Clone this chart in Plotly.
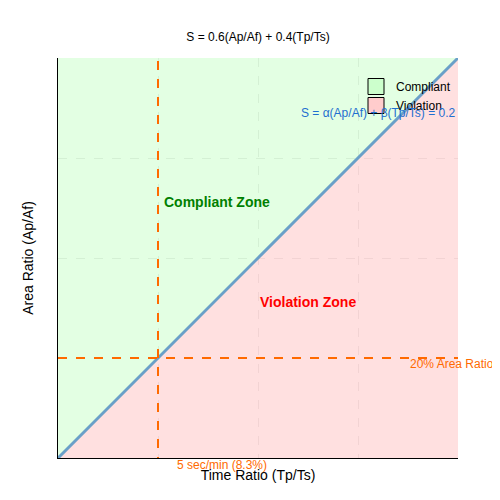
import plotly.graph_objects as go

diag_x = [0, 1]
diag_y = [0, 1]
thr_x = 0.25
thr_y = 0.25

fig = go.Figure()
fig.add_trace(go.Scatter(x=[0, 1, 0, 0], y=[0, 1, 1, 0], fill="toself", fillcolor="rgba(204,255,204,0.55)",
                         line=dict(width=0), mode="lines", showlegend=False, hoverinfo="skip"))
fig.add_trace(go.Scatter(x=[0, 1, 1, 0], y=[0, 1, 0, 0], fill="toself", fillcolor="rgba(255,204,204,0.6)",
                         line=dict(width=0), mode="lines", showlegend=False, hoverinfo="skip"))
fig.add_trace(go.Scatter(x=[None], y=[None], mode="markers", name="Compliant",
                         marker=dict(symbol="square", size=20, color="#ccffcc", line=dict(color="black", width=1))))
fig.add_trace(go.Scatter(x=[None], y=[None], mode="markers", name="Violation",
                         marker=dict(symbol="square", size=20, color="#ffcccc", line=dict(color="black", width=1))))
fig.add_trace(go.Scatter(x=diag_x, y=diag_y, mode="lines", line=dict(color="#6aa0c8", width=3), showlegend=False))
fig.add_trace(go.Scatter(x=[thr_x, thr_x], y=[-0.02, 1], mode="lines", cliponaxis=False,
                         line=dict(color="#ff6a00", width=2, dash="dash"), showlegend=False))
fig.add_trace(go.Scatter(x=[0, 1], y=[thr_y, thr_y], mode="lines",
                         line=dict(color="#ff6a00", width=2, dash="dash"), showlegend=False))

anns = [
    dict(x=1.0, y=0.885, text="S = α(Ap/Af) + β(Tp/Ts) = 0.2", font=dict(color="#1f6fd0", size=12), xanchor="right"),
    dict(x=0.26, y=0.64, text="<b>Compliant Zone</b>", font=dict(color="green", size=14)),
    dict(x=0.75, y=0.39, text="<b>Violation Zone</b>", font=dict(color="red", size=14)),
    dict(x=0.875, y=0.213, text="20% Area Ratio", font=dict(color="#ff6a00", size=12), xanchor="left"),
    dict(x=0.41, y=-0.04, text="5 sec/min (8.3%)", font=dict(color="#ff6a00", size=12)),
]
for a in anns:
    fig.add_annotation(showarrow=False, xref="paper", yref="paper", **a)

fig.update_layout(
    width=500, height=500, margin=dict(l=50, r=50, t=50, b=50),
    plot_bgcolor="white", paper_bgcolor="white",
    font=dict(family="Liberation Sans, Arial", color="black"),
    title=dict(text="S = 0.6(Ap/Af) + 0.4(Tp/Ts)", x=0.5, y=0.95, font=dict(size=12)),
    xaxis=dict(range=[0, 1], showticklabels=False, ticks="", showline=True, linecolor="black", automargin=False,
               showgrid=True, gridcolor="rgba(200,200,200,0.6)", griddash="dash", dtick=0.25, zeroline=False,
               title=dict(text="Time Ratio (Tp/Ts)", font=dict(size=14), standoff=12)),
    yaxis=dict(range=[0, 1], showticklabels=False, ticks="", showline=True, linecolor="black", automargin=False,
               showgrid=True, gridcolor="rgba(200,200,200,0.6)", griddash="dash", dtick=0.25, zeroline=False,
               title=dict(text="Area Ratio (Ap/Af)", font=dict(size=14), standoff=20)),
    legend=dict(x=0.745, y=0.965, xanchor="left", yanchor="top", bgcolor="rgba(0,0,0,0)", font=dict(size=12)),
)
fig.write_html("out.html")
